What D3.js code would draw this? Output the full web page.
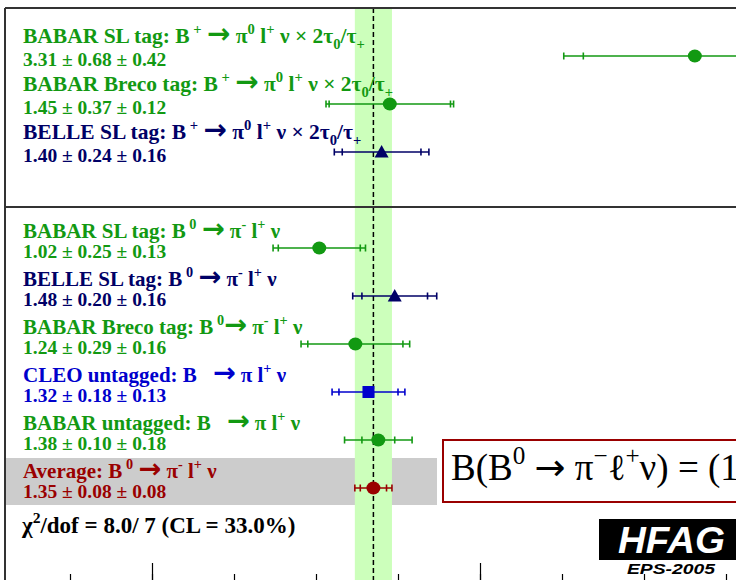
<!DOCTYPE html>
<html><head><meta charset="utf-8">
<script src="https://cdn.jsdelivr.net/npm/d3@7"></script>
<style>
html,body{margin:0;padding:0;background:#fff;}
svg{display:block;}
text{white-space:pre;}
</style></head>
<body>
<svg id="chart" width="736" height="580"></svg>
<script>
// ---------- DATA ----------
const categories = [
  "BABAR SL tag: B^{ +} → π^{0} l^{+} ν × 2τ_{0}/τ_{+}",
  "BABAR Breco tag: B^{ +} → π^{0} l^{+} ν × 2τ_{0}/τ_{+}",
  "BELLE SL tag: B^{ +} → π^{0} l^{+} ν × 2τ_{0}/τ_{+}",
  "BABAR SL tag: B^{ 0} → π^{-} l^{+} ν",
  "BELLE SL tag: B^{ 0} → π^{-} l^{+} ν",
  "BABAR Breco tag: B^{ 0}→ π^{-} l^{+} ν",
  "CLEO untagged: B   → π l^{+} ν",
  "BABAR untagged: B   → π l^{+} ν",
  "Average: B^{ 0} → π^{-} l^{+} ν"
];
const values   = [3.31, 1.45, 1.40, 1.02, 1.48, 1.24, 1.32, 1.38, 1.35];
const statErrs = [0.68, 0.37, 0.24, 0.25, 0.20, 0.29, 0.18, 0.10, 0.08];
const systErrs = [0.42, 0.12, 0.16, 0.13, 0.16, 0.16, 0.13, 0.18, 0.08];
const valueLabels = [
  "3.31 ± 0.68 ± 0.42", "1.45 ± 0.37 ± 0.12", "1.40 ± 0.24 ± 0.16",
  "1.02 ± 0.25 ± 0.13", "1.48 ± 0.20 ± 0.16", "1.24 ± 0.29 ± 0.16",
  "1.32 ± 0.18 ± 0.13", "1.38 ± 0.10 ± 0.18", "1.35 ± 0.08 ± 0.08"
];
const experiments = ["BABAR","BABAR","BELLE","BABAR","BELLE","BABAR","CLEO","BABAR","AVG"];
const rowSlots = [0, 1, 2, 4, 5, 6, 7, 8, 9];
const averageValue = 1.35, averageStat = 0.08, averageSyst = 0.08;
const majorTicks = [-2, 0, 2, 4];
const minorTicks = [-1, -0.5, 0, 0.5, 1, 1.5, 2, 2.5, 3, 3.5, 4];
const chi2Text = "χ^{2}/dof = 8.0/ 7 (CL = 33.0%)";
const resultText = "B(B^{0} → π^{−}ℓ^{+}ν) = (1";
const logoText = "HFAG", logoSub = "EPS-2005";

// ---------- STYLE ----------
const expColor = {BABAR:"#129912", BELLE:"#000066", CLEO:"#0000cc", AVG:"#9a0000"};
const expShape = {BABAR:"circle", BELLE:"triangle", CLEO:"square", AVG:"circle"};
const serif = "'Liberation Serif','Times New Roman',serif";

const svg = d3.select("#chart");
const x = d3.scaleLinear().domain([0, 2]).range([152, 480]);
const y = d3.scaleLinear().domain([0, 9]).range([56, 488]);
const frameTop = 8, frameLeft = 5, frameBottom = 582;

function rich(sel, str, fs, arrowScale) {
  const parts = str.split(/(\^\{[^}]*\}|_\{[^}]*\}|→)/).filter(s => s.length);
  let off = 0;
  parts.forEach(p => {
    let txt = p, target = 0, size = fs, fam = null;
    if (p.startsWith("^{")) { txt = p.slice(2, -1); target = -0.42 * fs; size = fs * 0.68; }
    else if (p.startsWith("_{")) { txt = p.slice(2, -1); target = 0.28 * fs; size = fs * 0.68; }
    else if (p === "→") { fam = "'DejaVu Sans',sans-serif"; size = fs * arrowScale; target = 0; }
    const ts = sel.append("tspan").attr("dy", target - off).attr("font-size", size).text(txt);
    if (fam) ts.attr("font-family", fam);
    off = target;
  });
}

// average gray band
svg.append("rect").attr("x", frameLeft).attr("y", y(9) - 30).attr("width", 437 - frameLeft).attr("height", 47)
  .attr("fill", "#cccccc");

// green band
const avgErr = Math.sqrt(averageStat ** 2 + averageSyst ** 2);
svg.append("rect").attr("x", x(averageValue - avgErr)).attr("y", frameTop)
  .attr("width", x(averageValue + avgErr) - x(averageValue - avgErr)).attr("height", frameBottom - frameTop)
  .attr("fill", "#ccffbb");

// dashed average line
svg.append("line").attr("x1", x(averageValue)).attr("x2", x(averageValue))
  .attr("y1", frameTop).attr("y2", frameBottom).attr("stroke", "#000").attr("stroke-width", 1.5)
  .attr("stroke-dasharray", "5,3");

// frame
svg.append("line").attr("x1", frameLeft).attr("x2", 740).attr("y1", frameTop).attr("y2", frameTop)
  .attr("stroke", "#333").attr("stroke-width", 2);
svg.append("line").attr("x1", frameLeft).attr("x2", frameLeft).attr("y1", frameTop).attr("y2", frameBottom)
  .attr("stroke", "#333").attr("stroke-width", 2);
const sepY = (y(2) + y(4)) / 2 + 7;
svg.append("line").attr("x1", frameLeft).attr("x2", 740).attr("y1", sepY).attr("y2", sepY)
  .attr("stroke", "#333").attr("stroke-width", 2);

// axes (labels fall outside the picture)
svg.append("g").attr("transform", `translate(0,${frameBottom})`)
  .call(d3.axisTop(x).tickValues(minorTicks).tickSize(8).tickFormat(""))
  .call(g => g.select(".domain").attr("stroke", "#000"))
  .call(g => g.selectAll("line").attr("stroke", "#000").attr("stroke-width", 1.2));
svg.append("g").attr("transform", `translate(0,${frameBottom})`)
  .call(d3.axisTop(x).tickValues(majorTicks).tickSize(19).tickFormat(""))
  .call(g => g.select(".domain").remove())
  .call(g => g.selectAll("line").attr("stroke", "#000").attr("stroke-width", 1.2));

// rows
categories.forEach((lab, i) => {
  const col = expColor[experiments[i]];
  const cy = y(rowSlots[i]);
  const topPanel = rowSlots[i] < 3;
  const fs = topPanel ? 21.5 : 21;
  const t = svg.append("text").attr("x", 23).attr("y", cy + (topPanel ? -13 : -10))
    .attr("font-family", serif).attr("font-weight", "bold").attr("font-size", fs)
    .attr("fill", col);
  rich(t, lab, fs, 1.3);
  svg.append("text").attr("x", 23).attr("y", cy + 10)
    .attr("font-family", serif).attr("font-weight", "bold").attr("font-size", 19.5)
    .attr("fill", col).text(valueLabels[i]);

  const v = values[i], s = statErrs[i], tot = Math.sqrt(statErrs[i] ** 2 + systErrs[i] ** 2);
  const g = svg.append("g").attr("stroke", col).attr("stroke-width", 1.6);
  g.append("line").attr("x1", x(v - tot)).attr("x2", x(v + tot)).attr("y1", cy).attr("y2", cy);
  [v - tot, v - s, v + s, v + tot].forEach(e => {
    g.append("line").attr("x1", x(e)).attr("x2", x(e)).attr("y1", cy - 3.5).attr("y2", cy + 3.5);
  });
  const shape = expShape[experiments[i]];
  if (shape === "circle") {
    svg.append("ellipse").attr("cx", x(v)).attr("cy", cy).attr("rx", 7).attr("ry", 6.5).attr("fill", col);
  } else if (shape === "triangle") {
    svg.append("path").attr("transform", `translate(${x(v)},${cy})`)
      .attr("d", "M0,-7 L7,5.5 L-7,5.5 Z").attr("fill", col);
  } else {
    svg.append("rect").attr("x", x(v) - 6).attr("y", cy - 6).attr("width", 12).attr("height", 12).attr("fill", col);
  }
});

// chi2
const c2 = svg.append("text").attr("x", 22).attr("y", 533).attr("font-family", serif)
  .attr("font-weight", "bold").attr("font-size", 23).attr("fill", "#000");
rich(c2, chi2Text, 23, 1);

// result box
svg.append("rect").attr("x", 443).attr("y", 440).attr("width", 320).attr("height", 62)
  .attr("fill", "#fff").attr("stroke", "#9a0000").attr("stroke-width", 2);
const rt = svg.append("text").attr("x", 451).attr("y", 480).attr("font-family", serif)
  .attr("font-size", 37).attr("fill", "#000");
rich(rt, resultText, 37, 1.0);

// logo
svg.append("rect").attr("x", 599).attr("y", 519).attr("width", 140).attr("height", 41).attr("fill", "#000");
svg.append("text").attr("x", 618).attr("y", 553).attr("font-family", "'Liberation Sans',Arial,sans-serif")
  .attr("font-weight", "bold").attr("font-style", "italic").attr("font-size", 36)
  .attr("textLength", 107).attr("lengthAdjust", "spacingAndGlyphs").attr("fill", "#fff").text(logoText);
svg.append("text").attr("x", 627).attr("y", 574).attr("font-family", "'Liberation Sans',Arial,sans-serif")
  .attr("font-weight", "bold").attr("font-style", "italic").attr("font-size", 15)
  .attr("textLength", 88).attr("lengthAdjust", "spacingAndGlyphs").attr("fill", "#000").text(logoSub);
</script>
</body></html>
